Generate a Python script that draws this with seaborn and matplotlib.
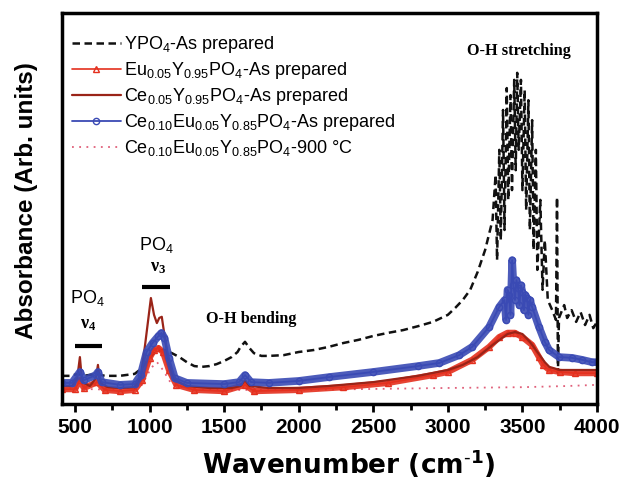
import matplotlib
matplotlib.use("Agg")
import matplotlib.pyplot as plt
from matplotlib.ticker import MultipleLocator, NullLocator
import pandas as pd
import seaborn as sns

# ---- FTIR spectra (wavenumber in cm^-1, absorbance in arbitrary units) ----
ypo4_wn = [413, 470, 520, 560, 640, 700, 800, 900, 950, 1000, 1050, 1100, 1150, 1200,
           1250, 1300, 1350, 1400, 1450, 1500, 1550, 1590, 1610, 1640, 1670, 1700, 1750,
           1800, 1900, 2000, 2100, 2200, 2300, 2400, 2500, 2600, 2700, 2800, 2900, 3000,
           3050, 3100, 3150, 3200, 3250, 3300, 3320, 3330, 3345, 3355, 3370, 3380, 3395,
           3405, 3420, 3430, 3445, 3455, 3465, 3475, 3490, 3500, 3515, 3525, 3540, 3550,
           3565, 3575, 3590, 3600, 3620, 3635, 3650, 3670, 3700, 3725, 3732, 3738, 3745,
           3780, 3800, 3830, 3860, 3890, 3920, 3950, 3975, 4000]
ypo4_abs = [0.072, 0.072, 0.077, 0.072, 0.077, 0.072, 0.072, 0.077, 0.092, 0.118, 0.138,
            0.138, 0.130, 0.120, 0.107, 0.097, 0.095, 0.097, 0.102, 0.110, 0.120, 0.133,
            0.146, 0.159, 0.143, 0.130, 0.123, 0.123, 0.125, 0.133, 0.138, 0.146, 0.156,
            0.164, 0.174, 0.182, 0.189, 0.199, 0.210, 0.228, 0.246, 0.266, 0.292, 0.338,
            0.394, 0.471, 0.586, 0.368, 0.650, 0.419, 0.752, 0.445, 0.808, 0.522, 0.790,
            0.547, 0.829, 0.598, 0.847, 0.650, 0.829, 0.547, 0.803, 0.496, 0.777, 0.445,
            0.726, 0.394, 0.650, 0.343, 0.522, 0.292, 0.419, 0.266, 0.240, 0.215, 0.529,
            0.079, 0.220, 0.253, 0.220, 0.240, 0.210, 0.235, 0.202, 0.228, 0.194, 0.210]

eu_wn = [413, 500, 533, 560, 650, 700, 800, 900, 950, 1000, 1030, 1060, 1090, 1130, 1180,
         1300, 1500, 1640, 1700, 2000, 2300, 2600, 2900, 3000, 3163, 3277, 3344, 3400,
         3450, 3500, 3565, 3611, 3640, 3680, 3750, 3850, 4000]
eu_abs = [0.038, 0.038, 0.061, 0.041, 0.056, 0.036, 0.033, 0.036, 0.061, 0.118, 0.138,
          0.143, 0.133, 0.087, 0.049, 0.036, 0.033, 0.049, 0.033, 0.036, 0.043, 0.054,
          0.074, 0.082, 0.113, 0.146, 0.171, 0.182, 0.182, 0.171, 0.151, 0.120, 0.100,
          0.087, 0.082, 0.079, 0.079]

ce_wn = [413, 480, 515, 533, 548, 600, 640, 654, 668, 720, 800, 900, 940, 970, 1009, 1030,
         1049, 1065, 1082, 1100, 1130, 1170, 1250, 1400, 1550, 1610, 1640, 1670, 1800,
         2000, 2200, 2500, 2800, 3000, 3100, 3200, 3300, 3400, 3450, 3500, 3550, 3600,
         3650, 3680, 3750, 3850, 4000]
ce_abs = [0.046, 0.046, 0.066, 0.120, 0.056, 0.046, 0.066, 0.100, 0.054, 0.043, 0.041,
          0.043, 0.066, 0.151, 0.271, 0.228, 0.207, 0.220, 0.223, 0.176, 0.100, 0.061,
          0.046, 0.041, 0.041, 0.046, 0.061, 0.046, 0.041, 0.041, 0.046, 0.056, 0.072,
          0.087, 0.100, 0.120, 0.151, 0.179, 0.184, 0.179, 0.159, 0.133, 0.107, 0.095,
          0.087, 0.087, 0.087]

ceeu_wn = [413, 480, 533, 560, 640, 654, 680, 800, 900, 940, 980, 1020, 1060, 1080, 1100,
           1130, 1170, 1250, 1500, 1600, 1640, 1680, 1800, 2000, 2206, 2500, 2800, 2943,
           3076, 3163, 3277, 3344, 3380, 3390, 3400, 3410, 3420, 3431, 3440, 3450, 3460,
           3470, 3480, 3490, 3500, 3510, 3520, 3530, 3540, 3550, 3565, 3611, 3650, 3679,
           3746, 3833, 3900, 3967, 4000]
ceeu_abs = [0.054, 0.054, 0.082, 0.061, 0.074, 0.082, 0.056, 0.049, 0.051, 0.074, 0.133,
            0.156, 0.174, 0.182, 0.169, 0.118, 0.066, 0.054, 0.051, 0.056, 0.074, 0.056,
            0.054, 0.059, 0.069, 0.082, 0.097, 0.105, 0.125, 0.146, 0.197, 0.248, 0.266,
            0.215, 0.292, 0.279, 0.228, 0.368, 0.304, 0.266, 0.317, 0.297, 0.253, 0.304,
            0.286, 0.240, 0.279, 0.271, 0.228, 0.266, 0.248, 0.197, 0.159, 0.138, 0.120,
            0.118, 0.113, 0.107, 0.107]

ceeu900_wn = [413, 600, 800, 950, 1010, 1050, 1090, 1150, 1300, 2000, 3000, 3500, 3800, 4000]
ceeu900_abs = [0.041, 0.038, 0.036, 0.049, 0.092, 0.107, 0.087, 0.049, 0.036, 0.036,
               0.041, 0.043, 0.046, 0.049]

labels = [
    "YPO$_4$-As prepared",
    "Eu$_{0.05}$Y$_{0.95}$PO$_4$-As prepared",
    "Ce$_{0.05}$Y$_{0.95}$PO$_4$-As prepared",
    "Ce$_{0.10}$Eu$_{0.05}$Y$_{0.85}$PO$_4$-As prepared",
    "Ce$_{0.10}$Eu$_{0.05}$Y$_{0.85}$PO$_4$-900 \u00b0C",
]

xticks = [500, 1000, 1500, 2000, 2500, 3000, 3500, 4000]

BLACK = "#111111"
RED = "#e4301e"
DARKRED = "#9a2418"
BLUE = "#3a4ab4"
PINK = "#e0607a"

sns.set_theme(style="ticks")
plt.rcParams["font.family"] = ["Liberation Sans", "DejaVu Sans"]
plt.rcParams["mathtext.default"] = "regular"
plt.rcParams["text.color"] = "black"
plt.rcParams["axes.labelcolor"] = "black"
plt.rcParams["xtick.color"] = "black"
plt.rcParams["xtick.labelcolor"] = "black"

fig = plt.figure(figsize=(6.23, 4.8), dpi=100)
ax = fig.add_axes([62 / 623, 76 / 480, 535 / 623, 391 / 480])


def frame(wn, ab):
    return pd.DataFrame({"wavenumber": wn, "absorbance": ab})


common = dict(x="wavenumber", y="absorbance", ax=ax, estimator=None, sort=False)

# YPO4 as prepared
sns.lineplot(data=frame(ypo4_wn, ypo4_abs), color=BLACK, lw=1.8,
             linestyle=(0, (3.0, 1.8)), label=labels[0], **common)
# Ce/Eu 900 C
sns.lineplot(data=frame(ceeu900_wn, ceeu900_abs), color=PINK, lw=1.3,
             linestyle=(0, (1, 3)), label=labels[4], **common)
# Eu doped: thick band + triangles
sns.lineplot(data=frame(eu_wn, eu_abs), color=RED, lw=4.5, alpha=0.9, **common)
sns.lineplot(data=frame(eu_wn, eu_abs), color=RED, lw=1.2, marker="^", ms=4.5,
             mfc="none", mec=RED, mew=1.0, label=labels[1], **common)
# Ce doped
sns.lineplot(data=frame(ce_wn, ce_abs), color=DARKRED, lw=1.6, label=labels[2], **common)
# Ce/Eu co-doped: thick band + circles
sns.lineplot(data=frame(ceeu_wn, ceeu_abs), color=BLUE, lw=5.5, alpha=0.9, **common)
sns.lineplot(data=frame(ceeu_wn, ceeu_abs), color=BLUE, lw=1.3, marker="o", ms=4.5,
             mfc="none", mec=BLUE, mew=1.0, label=labels[3], **common)

ax.set_xlim(413, 4000)
ax.set_ylim(0, 1)
ax.xaxis.set_minor_locator(MultipleLocator(250))
ax.yaxis.set_major_locator(NullLocator())
ax.set_xticks(xticks)
ax.set_xticklabels([str(t) for t in xticks])
ax.tick_params(axis="x", which="major", direction="out", length=6, width=2,
               labelsize=15, pad=4, bottom=True, top=False, colors="black")
ax.tick_params(axis="x", which="minor", direction="out", length=4, width=2,
               bottom=True, top=False, colors="black")
for lbl in ax.get_xticklabels():
    lbl.set_fontweight("bold")
for sp in ax.spines.values():
    sp.set_linewidth(2.5)
    sp.set_color("black")
    sp.set_visible(True)

ax.set_xlabel(r"Wavenumber (cm$^{\text{-}1}$)", fontsize=19, fontweight="bold",
              family="DejaVu Sans")
ax.set_ylabel("Absorbance (Arb. units)", fontsize=17.5, fontweight="bold")
ax.xaxis.set_label_coords(0.535, -0.11)
ax.yaxis.set_label_coords(-0.045, 0.52)

# band annotations
ax.text(580, 0.271, "PO$_4$", ha="center", va="center", fontsize=13)
ax.text(587, 0.204, "\u03bd$_4$", ha="center", va="center", fontsize=13,
        family=["Liberation Serif", "DejaVu Serif"], fontweight="bold")
ax.hlines(0.148, 500, 681, color="black", lw=3)
ax.text(1049, 0.407, "PO$_4$", ha="center", va="center", fontsize=13)
ax.text(1055, 0.350, "\u03bd$_3$", ha="center", va="center", fontsize=13,
        family=["Liberation Serif", "DejaVu Serif"], fontweight="bold")
ax.hlines(0.299, 948, 1136, color="black", lw=3)
ax.text(1684, 0.218, "O-H bending", ha="center", va="center", fontsize=11.7,
        family=["Liberation Serif", "DejaVu Serif"], fontweight="bold")
ax.text(3478, 0.903, "O-H stretching", ha="center", va="center", fontsize=11.7,
        family=["Liberation Serif", "DejaVu Serif"], fontweight="bold")

handles, labs = ax.get_legend_handles_labels()
order = [labs.index(l) for l in labels]
ax.legend([handles[i] for i in order], [labs[i] for i in order],
          loc="upper left", bbox_to_anchor=(0.012, 0.955), frameon=False,
          fontsize=13, handlelength=2.7, handletextpad=0.2, labelspacing=0.28,
          borderpad=0.2, borderaxespad=0)

fig.savefig("out.png", dpi=100)
